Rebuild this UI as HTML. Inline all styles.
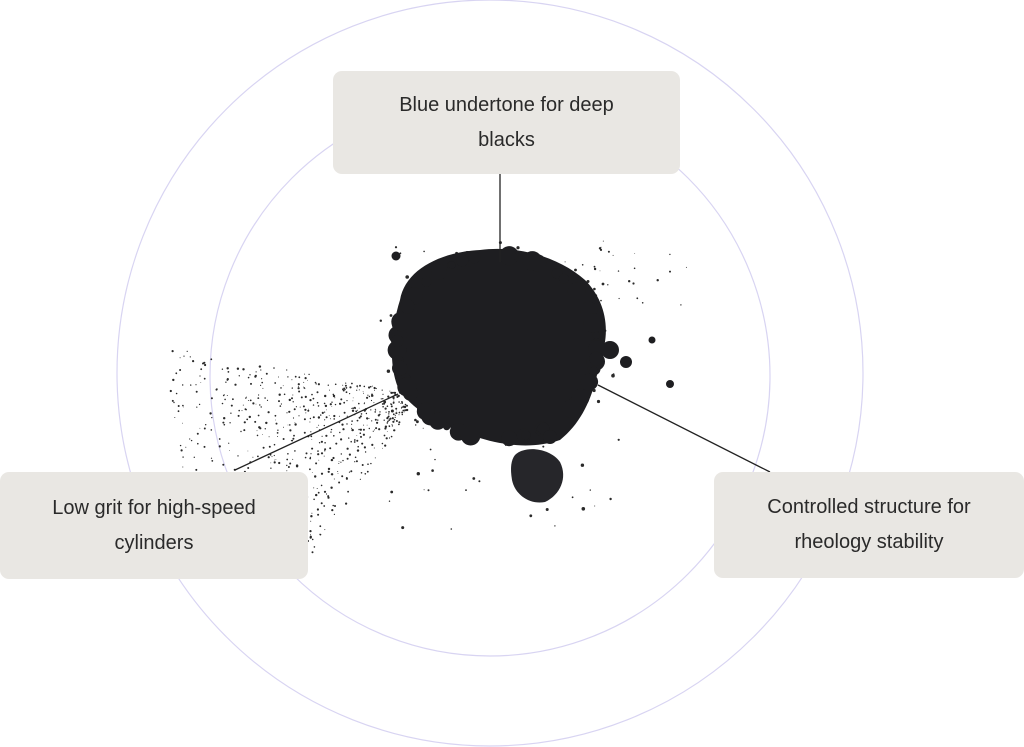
<!DOCTYPE html>
<html><head><meta charset="utf-8"><style>
html,body{margin:0;padding:0;background:#fff;width:1024px;height:747px;overflow:hidden;position:relative;font-family:"Liberation Sans",sans-serif}
svg{position:absolute;left:0;top:0}
.box{position:absolute;background:#e9e7e3;border-radius:9px;display:flex;align-items:center;justify-content:center;text-align:center;font-size:20px;line-height:35px;color:#2a2a2a}
</style></head><body>
<svg width="1024" height="747" id="s">
<circle cx="490" cy="373" r="373" fill="none" stroke="#d8d4f2" stroke-width="1.2"/>
<circle cx="490" cy="376" r="280" fill="none" stroke="#d8d4f2" stroke-width="1.2"/>
<g id="dots" fill="#2a2a2a"></g>
<path d="M400,300 C405,270 440,252 480,250 C520,245 560,258 585,280 C605,300 612,330 600,360 C595,390 585,420 560,440 C530,450 500,445 470,435 C440,425 410,410 397,385 C388,360 392,325 400,300Z" fill="#1e1e21"/>
<g id="rough" fill="#1e1e21"></g>
<path d="M515,455 C525,445 550,448 560,462 C568,478 560,495 545,502 C530,505 515,495 512,480 C510,468 511,460 515,455Z" fill="#26262a"/>
<circle cx="610" cy="350" r="9" fill="#1e1e21"/><circle cx="626" cy="362" r="6" fill="#1e1e21"/>
<circle cx="670" cy="384" r="4" fill="#1e1e21"/><circle cx="652" cy="340" r="3.5" fill="#1e1e21"/>
<circle cx="396" cy="256" r="4.5" fill="#1e1e21"/><circle cx="550" cy="437" r="7" fill="#1e1e21"/>
<line x1="500" y1="174" x2="500" y2="262" stroke="#222" stroke-width="1.3"/>
<line x1="235" y1="470" x2="398" y2="394" stroke="#222" stroke-width="1.3"/>
<line x1="598" y1="385" x2="770" y2="472" stroke="#222" stroke-width="1.3"/>
</svg>
<div class="box" style="left:333px;top:71px;width:347px;height:103px">Blue undertone for deep<br>blacks</div>
<div class="box" style="left:0;top:472px;width:308px;height:107px">Low grit for high-speed<br>cylinders</div>
<div class="box" style="left:714px;top:472px;width:310px;height:106px">Controlled structure for<br>rheology stability</div>
<script>
var seed=7;function r(){seed=(seed*16807)%2147483647;return seed/2147483647;}
var g=document.getElementById('dots'),h='';
for(var i=0;i<700;i++){var a=(165+r()*80)*Math.PI/180;var d=20+Math.pow(r(),1.0)*240;
var x=420+Math.cos(a)*d,y=395-Math.sin(a)*d*0.7;
if(y>560||y<280||x<170)continue;h+='<circle cx="'+x.toFixed(1)+'" cy="'+y.toFixed(1)+'" r="'+(0.4+r()*0.8).toFixed(1)+'"/>';}
for(var i=0;i<130;i++){var x=380+r()*240,y=240+r()*290;h+='<circle cx="'+x.toFixed(1)+'" cy="'+y.toFixed(1)+'" r="'+(0.5+r()*1.3).toFixed(1)+'"/>';}
for(var i=0;i<30;i++){var x=560+r()*130,y=245+r()*60;h+='<circle cx="'+x.toFixed(1)+'" cy="'+y.toFixed(1)+'" r="'+(0.4+r()*1).toFixed(1)+'"/>';}
g.innerHTML=h;
var k='';for(var i=0;i<60;i++){var a=r()*Math.PI*2;var x=497+Math.cos(a)*100,y=347+Math.sin(a)*92;k+='<circle cx="'+x.toFixed(1)+'" cy="'+y.toFixed(1)+'" r="'+(3+r()*7).toFixed(1)+'"/>';}
document.getElementById('rough').innerHTML=k;
</script>
</body></html>
